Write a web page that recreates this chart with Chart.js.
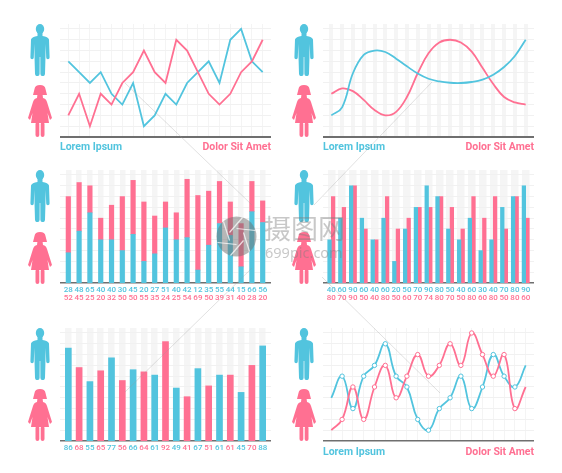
<!DOCTYPE html>
<html>
<head>
<meta charset="utf-8">
<title>Lorem Ipsum</title>
<script src="https://cdn.jsdelivr.net/npm/chart.js@4"></script>
<style>
  html, body { margin: 0; padding: 0; background: #fff; }
  #page { position: relative; width: 562px; height: 473px; overflow: hidden; font-family: Roboto, sans-serif; }
  canvas { position: absolute; }
  .icon { position: absolute; }
  .lbl { position: absolute; font-size: 10.5px; font-weight: 700; line-height: 14px; white-space: nowrap; }
  .blue { color: #52c4de; }
  .pink { color: #ff7092; }
  #overlay { position: absolute; left: 0; top: 0; }
  .wm { position: absolute; color: #7d7d7d; opacity: .42; white-space: nowrap; }
</style>
</head>
<body>
<div id="page"></div>

<script>
const BLUE = "#52c4de";
const PINK = "#ff7092";

// top left, straight lines
const line1Blue = [7, 6, 5, 6, 4, 3, 5, 1, 2, 4, 3, 5, 6, 7, 5, 9, 10, 7, 6];
const line1Pink = [2, 4, 1, 4, 3, 5, 6, 8, 6, 5, 9, 8, 6, 4, 3, 4, 6, 7, 9];

// top right, smooth curves
const curveBlue = [2, 2.75, 5.9, 7.6, 8, 7.87, 7.25, 6.54, 5.88, 5.39, 5.14, 5.02, 5, 5.09, 5.31, 5.77, 6.48, 7.5, 9];
const curvePink = [4, 4.5, 4.25, 3.43, 2.5, 2, 2.33, 3.7, 5.9, 7.75, 8.75, 9, 8.75, 7.9, 6.4, 4.9, 3.7, 3.2, 3];

// middle left, stacked
const stackBlue = [28, 48, 65, 40, 40, 30, 45, 20, 27, 51, 40, 42, 12, 35, 55, 44, 15, 66, 56];
const stackPink = [52, 45, 25, 20, 32, 50, 50, 55, 35, 24, 25, 54, 69, 50, 39, 31, 40, 28, 20];

// middle right, grouped (the 10th pink bar is drawn at 70 but labelled 74)
const groupBlue = [40, 60, 90, 60, 40, 60, 20, 50, 70, 90, 80, 50, 40, 60, 30, 40, 70, 80, 90];
const groupPink = [80, 70, 90, 50, 40, 80, 50, 60, 70, 70, 80, 70, 50, 80, 60, 80, 50, 80, 60];
const groupPinkLabels = [80, 70, 90, 50, 40, 80, 50, 60, 70, 74, 80, 70, 50, 80, 60, 80, 50, 80, 60];

// bottom left, alternating colours
const singleValues = [86, 68, 55, 65, 77, 56, 66, 64, 61, 92, 49, 41, 67, 51, 61, 61, 45, 70, 88];

// bottom right, curves with markers
const waveBlue = [4, 6, 3, 6, 7, 9, 6, 5, 2, 1, 3, 4, 6, 3, 5, 8, 6, 5, 7];
const wavePink = [1, 2, 5, 2, 5, 7, 4, 6, 8, 6, 7, 9, 7, 10, 8, 6, 8, 3, 5];

const legendLeft = "Lorem Ipsum";
const legendRight = "Dolor Sit Amet";

const page = document.getElementById("page");

function toPoints(values) {
  return values.map((v, i) => ({ x: i, y: v }));
}

function integerTicks(from, to, step) {
  const ticks = [];
  for (let v = from; v <= to; v += step) ticks.push({ value: v });
  return ticks;
}

// x scale: points sit 10.8px apart, plot is 211px wide
function xScale(opts) {
  return {
    type: "linear",
    offset: false,
    min: -0.77,
    max: 18.77,
    stacked: !!opts.stacked,
    weight: 0,
    afterBuildTicks: s => { s.ticks = integerTicks(0, 18, 1); },
    afterFit: s => { s.height = opts.height || 30; },
    border: { display: true, color: "#6f6f6f", width: opts.axisWidth || 1.5 },
    grid: {
      display: true,
      offset: false,
      drawTicks: false,
      color: opts.bandColor || "#f4f4f4",
      lineWidth: opts.bandWidth || 1
    },
    ticks: {
      display: !!opts.labels,
      padding: 2,
      autoSkip: false,
      maxRotation: 0,
      font: { family: "Roboto", size: 8, weight: "500" },
      color: opts.labelColor || BLUE,
      callback: v => opts.labels ? opts.labels[v] : ""
    }
  };
}

// second row of labels under the first one
function x2Scale(labels) {
  return {
    type: "linear",
    position: "bottom",
    offset: false,
    min: -0.77,
    max: 18.77,
    weight: 1,
    afterBuildTicks: s => { s.ticks = integerTicks(0, 18, 1); },
    afterFit: s => { s.height = 21; },
    border: { display: false },
    grid: { display: false, drawTicks: false },
    ticks: {
      padding: 1,
      autoSkip: false,
      maxRotation: 0,
      font: { family: "Roboto", size: 8, weight: "500" },
      color: PINK,
      callback: v => labels[v]
    }
  };
}

function yScale(maxValue, step, stacked) {
  return {
    min: 0,
    max: maxValue,
    stacked: !!stacked,
    afterBuildTicks: s => { s.ticks = integerTicks(step, maxValue, step); },
    afterFit: s => { s.width = 0; },
    border: { display: false },
    grid: { color: "#f1f1f1", lineWidth: 1, drawTicks: false },
    ticks: { display: false }
  };
}

function makeChart(left, top, type, datasets, scales) {
  const canvas = document.createElement("canvas");
  canvas.width = 211;
  canvas.height = 143;
  canvas.style.left = left + "px";
  canvas.style.top = top + "px";
  page.appendChild(canvas);
  return new Chart(canvas.getContext("2d"), {
    type: type,
    data: { datasets: datasets },
    options: {
      responsive: false,
      animation: false,
      layout: { padding: 0 },
      plugins: { legend: { display: false }, tooltip: { enabled: false } },
      scales: scales
    }
  });
}

function lineSet(values, color, extra) {
  return Object.assign({
    data: toPoints(values),
    borderColor: color,
    backgroundColor: color,
    borderWidth: 1.8,
    pointRadius: 0,
    fill: false
  }, extra || {});
}

function barSet(values, color, thickness) {
  return {
    data: toPoints(values),
    backgroundColor: color,
    barThickness: thickness,
    borderWidth: 0
  };
}

const LEFT_X = 60;
const RIGHT_X = 323;
const ROW1 = 24;
const ROW2 = 170;
const ROW3 = 328;

makeChart(LEFT_X, ROW1, "line",
  [lineSet(line1Pink, PINK, { tension: 0 }), lineSet(line1Blue, BLUE, { tension: 0 })],
  { x: xScale({ axisWidth: 2 }), y: yScale(10.46, 1) });

makeChart(RIGHT_X, ROW1, "line",
  [lineSet(curveBlue, BLUE, { tension: 0.4 }), lineSet(curvePink, PINK, { tension: 0.4 })],
  { x: xScale({ axisWidth: 2, bandWidth: 4, bandColor: "#f5f5f5" }), y: yScale(10.46, 1) });

makeChart(LEFT_X, ROW2, "bar",
  [barSet(stackBlue, BLUE, 4.5), barSet(stackPink, PINK, 4.5)],
  {
    x: xScale({ stacked: true, labels: stackBlue, height: 9, bandWidth: 5.5, bandColor: "#f5f5f5" }),
    x2: x2Scale(stackPink),
    y: yScale(104.6, 10, true)
  });

makeChart(RIGHT_X, ROW2, "bar",
  [barSet(groupBlue, BLUE, 3.6), barSet(groupPink, PINK, 3.6)],
  {
    x: xScale({ labels: groupBlue, height: 9, bandWidth: 7.5, bandColor: "#f5f5f5" }),
    x2: x2Scale(groupPinkLabels),
    y: yScale(104.6, 10)
  });

makeChart(LEFT_X, ROW3, "bar",
  [{
    data: toPoints(singleValues),
    backgroundColor: singleValues.map((v, i) => i % 2 ? PINK : BLUE),
    barThickness: 6,
    borderWidth: 0
  }],
  {
    x: xScale({ labels: singleValues, bandWidth: 6.5, bandColor: "#f5f5f5", labelColor: c => c.index % 2 ? PINK : BLUE }),
    y: yScale(104.6, 10)
  });

const markerRadius = ctx => (ctx.dataIndex === 0 || ctx.dataIndex === 18) ? 0 : 2.2;
const waveExtra = {
  tension: 0.45,
  pointRadius: markerRadius,
  pointBackgroundColor: "#fff",
  pointBorderWidth: 1
};
makeChart(RIGHT_X, ROW3, "line",
  [lineSet(wavePink, PINK, Object.assign({ pointBorderColor: PINK }, waveExtra)),
   lineSet(waveBlue, BLUE, Object.assign({ pointBorderColor: BLUE }, waveExtra))],
  { x: xScale({}), y: yScale(10.46, 1) });

// legends under the line charts
function addLegend(left, y) {
  const a = document.createElement("div");
  a.className = "lbl blue";
  a.textContent = legendLeft;
  a.style.left = left + "px";
  a.style.top = y + "px";
  page.appendChild(a);

  const b = document.createElement("div");
  b.className = "lbl pink";
  b.textContent = legendRight;
  b.style.right = (562 - left - 211) + "px";
  b.style.top = y + "px";
  page.appendChild(b);
}
addLegend(LEFT_X, 140);
addLegend(RIGHT_X, 140);
addLegend(RIGHT_X, 445);

// figures
const MAN = '<svg class="icon" width="20" height="52" viewBox="0 0 20 52" style="left:{x}px;top:{y}px">' +
  '<ellipse cx="10" cy="5" rx="4.2" ry="5" fill="' + BLUE + '"/>' +
  '<path fill="' + BLUE + '" d="M7.5 8 L7.5 12 Q2 12.5 1 15.5 L0.4 33.5 a1.7 1.7 0 0 0 3.4 0 L4.3 20 L4.6 36 L5 49.8 a2.3 2.3 0 0 0 4.6 0 L9.7 33 h.6 L10.4 49.8 a2.3 2.3 0 0 0 4.6 0 L15.4 36 L15.7 20 L16.2 33.5 a1.7 1.7 0 0 0 3.4 0 L19 15.5 Q18 12.5 12.5 12 L12.5 8 Z"/>' +
  '</svg>';
const WOMAN = '<svg class="icon" width="24" height="52" viewBox="0 0 24 52" style="left:{x}px;top:{y}px">' +
  '<path fill="' + PINK + '" d="M12 0 Q7 0 6.5 4 L5 10 H19 L17.5 4 Q17 0 12 0 Z"/>' +
  '<path fill="' + PINK + '" d="M9.5 9 H14.5 L15 13 Q18 13.5 19 17 L24 33 L22 35 L19.5 28 L21 38 H3 L4.5 28 L2 35 L0 33 L5 17 Q6 13.5 9 13 Z"/>' +
  '<rect x="7.5" y="37" width="3.8" height="15" rx="1.9" fill="' + PINK + '"/>' +
  '<rect x="12.7" y="37" width="3.8" height="15" rx="1.9" fill="' + PINK + '"/>' +
  '</svg>';

function addFigures(centerX, manTop, womanTop) {
  page.insertAdjacentHTML("beforeend", MAN.replace("{x}", centerX - 10).replace("{y}", manTop));
  page.insertAdjacentHTML("beforeend", WOMAN.replace("{x}", centerX - 12).replace("{y}", womanTop));
}
addFigures(40.3, 24, 85);
addFigures(304, 24, 85);
addFigures(40.3, 170, 232);
addFigures(304, 170, 232);
addFigures(40.3, 328, 389);
addFigures(304, 328, 389);

// watermark on top of everything
page.insertAdjacentHTML("beforeend",
  '<svg id="overlay" width="562" height="473">' +
  '<g stroke="#9a9a9a" stroke-opacity=".3" stroke-width="1" fill="none">' +
  '<path d="M125 83 L252 205"/><path d="M432 82 L314 205"/>' +
  '<path d="M125 392 L252 268"/><path d="M440 393 L322 277"/>' +
  '</g>' +
  '<g transform="translate(236.5 236.5)">' +
  '<circle r="20" fill="#6f6f6f" fill-opacity=".5"/>' +
  '<g stroke="#fff" stroke-opacity=".75" stroke-width="1.2">' +
  '<path d="M-7 -4 L6 -19"/><path d="M0 -8 L19 -6"/><path d="M7 -4 L13 15"/>' +
  '<path d="M7 4 L-6 19"/><path d="M0 8 L-19 6"/><path d="M-7 4 L-13 -15"/>' +
  '</g></g></svg>');

const wmTitle = document.createElement("div");
wmTitle.className = "wm";
wmTitle.textContent = "摄图网";
wmTitle.style.cssText = "left:264px;top:209px;font:27px/38px 'Noto Sans CJK SC'";
page.appendChild(wmTitle);

const wmSite = document.createElement("div");
wmSite.className = "wm";
wmSite.textContent = "699pic.com";
wmSite.style.cssText = "left:265px;top:243px;font:14.5px/18px 'Noto Sans'";
page.appendChild(wmSite);
</script>
</body>
</html>
